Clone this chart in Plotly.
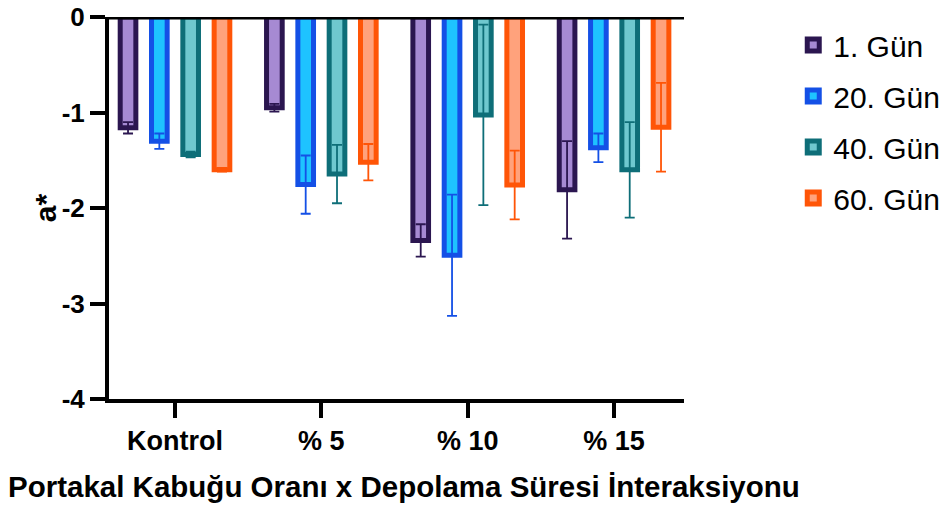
import plotly.graph_objects as go

categories = ["Kontrol", "% 5", "% 10", "% 15"]
series_names = ["1. Gün", "20. Gün", "40. Gün", "60. Gün"]

gun1 = [-1.16, -0.95, -2.34, -1.81]
gun20 = [-1.30, -1.755, -2.495, -1.37]
gun40 = [-1.44, -1.645, -1.025, -1.60]
gun60 = [-1.60, -1.52, -1.76, -1.155]

err1 = [0.06, 0.04, 0.17, 0.51]
err20 = [0.08, 0.305, 0.635, 0.15]
err40 = [0.03, 0.305, 0.945, 0.50]
err60 = [0.02, 0.19, 0.36, 0.465]

fills = ["#A68AD3", "#1EC3FF", "#6FC8CF", "#FFA27C"]
borders = ["#2B1650", "#1450E6", "#0E6E78", "#FF5507"]

y_ticks = [0, -1, -2, -3, -4]
y_ticktext = ["0", "-1", "-2", "-3", "-4"]

x_title = "Portakal Kabuğu Oranı x Depolama Süresi İnteraksiyonu"
y_title = "a*"

values = [gun1, gun20, gun40, gun60]
errors = [err1, err20, err40, err60]

slot = 0.214
bw = 0.107
xpos = list(range(len(categories)))

fig = go.Figure()
for i, name in enumerate(series_names):
    fig.add_trace(go.Bar(
        x=xpos, y=values[i], name=name,
        width=bw, offset=slot * (i - 1.5) - bw / 2,
        marker=dict(color=fills[i], line=dict(color=borders[i], width=5)),
        error_y=dict(type="data", array=errors[i], color=borders[i], thickness=1.8, width=5),
        legendgroup=name,
    ))

fig.add_shape(type="line", xref="paper", yref="y", x0=0, x1=1, y0=0, y1=0,
              line=dict(color="black", width=5), layer="above")

fnt = "Liberation Sans, Arial, sans-serif"
fig.add_annotation(text=x_title, xref="paper", yref="paper", x=0.513, y=-0.23,
                   xanchor="center", yanchor="middle", showarrow=False,
                   font=dict(family=fnt, size=29.5, color="black", weight="bold"))
fig.add_annotation(text=y_title, xref="paper", yref="paper", x=-0.111, y=0.5,
                   xanchor="center", yanchor="middle", showarrow=False, textangle=-90,
                   font=dict(family=fnt, size=30, color="black", weight="bold"))

fig.update_layout(
    width=951, height=505,
    margin=dict(l=109, r=267, t=17, b=106, autoexpand=False),
    plot_bgcolor="white", paper_bgcolor="white",
    barmode="overlay",
    showlegend=True,
    legend=dict(x=1.19, y=0.995, xanchor="left", yanchor="top",
                font=dict(family=fnt, size=30, color="black"),
                traceorder="grouped", tracegroupgap=9),
    xaxis=dict(range=[-0.451, 3.478], tickvals=xpos, ticktext=categories,
               showline=True, linecolor="black", linewidth=4,
               ticks="outside", ticklen=15, tickwidth=4, tickcolor="black",
               showgrid=False, zeroline=False, automargin=False,
               tickfont=dict(family=fnt, size=27, color="black", weight="bold")),
    yaxis=dict(range=[-4, 0], tickvals=y_ticks, ticktext=y_ticktext,
               showline=True, linecolor="black", linewidth=4,
               ticks="outside", ticklen=15, tickwidth=4, tickcolor="black",
               showgrid=False, zeroline=False, automargin=False,
               tickfont=dict(family=fnt, size=26, color="black", weight="bold")),
)

fig.write_html("out.html")
